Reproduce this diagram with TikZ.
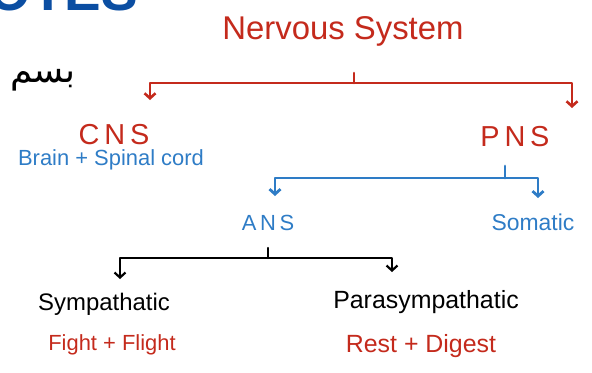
\documentclass[tikz,border=0pt]{standalone}
\usepackage{fontspec}
\setmainfont{Liberation Sans}
\newfontfamily\arabicfont[Script=Arabic]{DejaVu Sans}
\TeXXeTstate=1
\usetikzlibrary{arrows.meta}
\definecolor{penred}{HTML}{C42A1C}
\definecolor{penblue}{HTML}{2E7CC6}
\definecolor{titleblue}{HTML}{0B4EA2}

\begin{document}
\begin{tikzpicture}[x=1bp,y=-1bp,
  redpen/.style={draw=penred,line width=2.6bp,line cap=round,line join=round},
  bluepen/.style={draw=penblue,line width=2.8bp,line cap=round,line join=round},
  blackpen/.style={draw=black,line width=2.2bp,line cap=round,line join=round},
  branch/.style={-{Straight Barb[length=5bp,width=11bp]}},
  every node/.style={inner sep=0pt}]
  \useasboundingbox (0,0) rectangle (592,372);
  \clip (0,0) rectangle (592,372);
  %header, cut at the top
  \node[anchor=base east,text=titleblue,font=\bfseries\fontsize{55}{55}\selectfont] (hdr) at (138,10) {OTES};
  \node[font=\arabicfont\fontsize{36}{36}\selectfont] (bsm) at (43,80) {\beginR بسم\endR};
  %top level
  \node[text=penred,font=\fontsize{33}{33}\selectfont] (ns) at (343,31) {Nervous System};
  \node[text=penred,font=\fontsize{29}{29}\selectfont] (cns) at (114,135) {C\,N\,S};
  \node[text=penblue,font=\fontsize{22}{22}\selectfont] (brain) at (111,160) {Brain + Spinal cord};
  \node[text=penred,font=\fontsize{29}{29}\selectfont] (pns) at (515,137) {P\,N\,S};
  %red branch
  \coordinate (ns-stem) at (354,73);
  \coordinate (ns-bar) at (354,83);
  \coordinate (cns-in) at (150,100);
  \coordinate (pns-in) at (572,108);
  \draw[redpen] (ns-stem) -- (ns-bar);
  \draw[redpen,branch] (ns-bar) -| (cns-in);
  \draw[redpen,branch] (ns-bar) -| (pns-in);
  %PNS split
  \node[text=penblue,font=\fontsize{22}{22}\selectfont] (ans) at (268,223) {A\,N\,S};
  \node[text=penblue,font=\fontsize{23}{23}\selectfont] (som) at (533,222) {Somatic};
  \coordinate (pns-stem) at (505,166);
  \coordinate (pns-bar) at (505,178);
  \coordinate (ans-in) at (275,196);
  \coordinate (som-in) at (538,198);
  \draw[bluepen] (pns-stem) -- (pns-bar);
  \draw[bluepen,branch] (pns-bar) -| (ans-in);
  \draw[bluepen,branch] (pns-bar) -| (som-in);
  %ANS split
  \node[font=\fontsize{24}{24}\selectfont] (sym) at (104,304) {Sympathatic};
  \node[text=penred,font=\fontsize{22}{22}\selectfont] (fight) at (112,345) {Fight + Flight};
  \node[font=\fontsize{25}{25}\selectfont] (para) at (426,302) {Parasympathatic};
  \node[text=penred,font=\fontsize{25}{25}\selectfont] (rest) at (421,346) {Rest + Digest};
  \coordinate (ans-stem) at (268,248);
  \coordinate (ans-bar) at (268,258);
  \coordinate (sym-in) at (120,279);
  \coordinate (para-in) at (392,272);
  \draw[blackpen] (ans-stem) -- (ans-bar);
  \draw[blackpen,branch] (ans-bar) -| (sym-in);
  \draw[blackpen,branch] (ans-bar) -| (para-in);
\end{tikzpicture}
\end{document}
